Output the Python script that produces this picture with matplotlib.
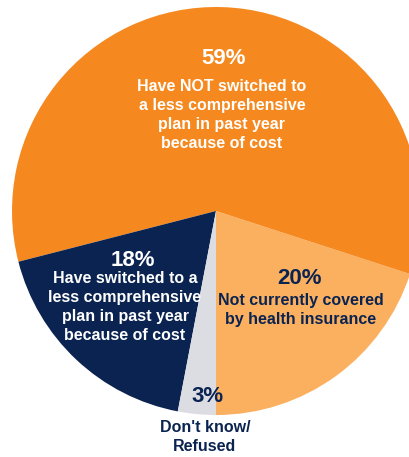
import matplotlib
matplotlib.use('Agg')
import matplotlib.pyplot as plt

W, H = 409, 457

# slices, counter-clockwise from straight down
values = [20, 59, 18, 3]
pcts = ['20%', '59%', '18%', '3%']
labels = [
    'Not currently covered\nby health insurance',
    'Have NOT switched to\na less comprehensive\nplan in past year\nbecause of cost',
    'Have switched to a\nless comprehensive\nplan in past year\nbecause of cost',
    "Don't know/\nRefused",
]
colors = ['#FBB060', '#F5891F', '#0A2350', '#DCDCE3']
text_colors = ['#0A2350', 'white', 'white', '#0A2350']

plt.rcParams['font.family'] = ['Liberation Sans', 'DejaVu Sans']
plt.rcParams['font.weight'] = 'bold'

fig = plt.figure(figsize=(W / 100, H / 100), dpi=100)
ax = fig.add_axes([0, 0, 1, 1])

cx, cy, r = 216, H - 211, 204
ax.pie(values, colors=colors, startangle=270, counterclock=True,
       center=(cx, cy), radius=r, wedgeprops=dict(linewidth=0))
ax.set_xlim(0, W)
ax.set_ylim(0, H)
ax.set_aspect('auto')
ax.axis('off')

# label positions in image pixels: (pct x, pct y, label x, label centre y)
pos = [
    (300, 278, 301, 310),
    (224, 59, 222, 115),
    (133, 260, 125, 307),
    (207, 397, 205, 437),
]

for i in range(len(values)):
    px, py, lx, ly = pos[i]
    ax.text(px, H - py, pcts[i], ha='center', va='center',
            fontsize=16, fontweight='bold', color=text_colors[i])
    ax.text(lx, H - ly, labels[i], ha='center', va='center',
            fontsize=11.5, fontweight='bold', color=text_colors[i],
            linespacing=1.36)

fig.savefig('out.png', dpi=100)
